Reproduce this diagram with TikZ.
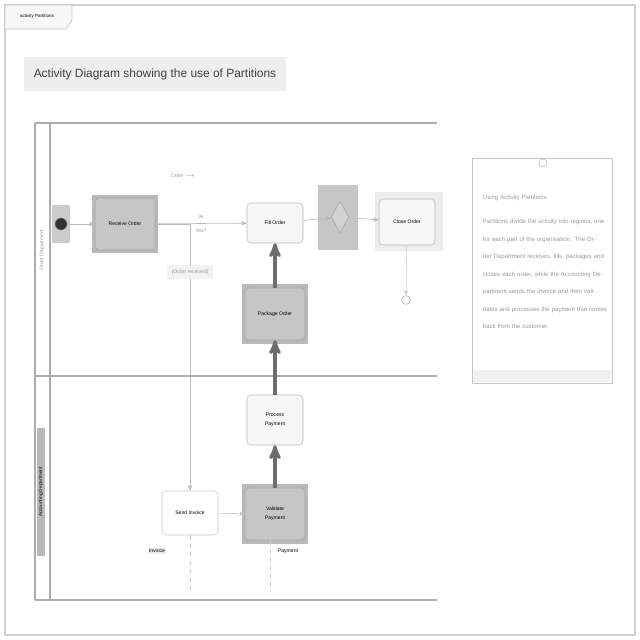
\documentclass[tikz,border=0pt]{standalone}
\usepackage{fontspec}
\setmainfont{Liberation Sans}
\usetikzlibrary{arrows,shapes.geometric,positioning}

\begin{document}
\begin{tikzpicture}[x=0.025cm,y=-0.025cm,>=stealth',font=\fontsize{3.6}{4.4}\selectfont]
    \tikzstyle{act}=[draw=gray!55, fill=gray!7, rounded corners=3pt, minimum width=1.4cm, minimum height=1cm, align=center, inner sep=1pt]
    \tikzstyle{dark act}=[act, fill=gray!45, draw=gray!70, minimum width=1.5cm, minimum height=1.3cm]
    \tikzstyle{hilite}=[fill=gray!55]
    \tikzstyle{flow}=[->, draw=gray!55, thin]
    \tikzstyle{thick flow}=[->, draw=gray!85!black, line width=2.2pt]
    \tikzstyle{lane}=[draw=gray!65, line width=1.5pt]
    \tikzstyle{faint}=[text=gray!80]

    \useasboundingbox (0,0) rectangle (640,640);

    % frame and tab
    \draw[gray!35, line width=1pt] (5,5) rectangle (635,635);
    \draw[gray!45, fill=gray!6] (5,5) -- (72,5) -- (72,20) -- (66,29) -- (5,29) -- cycle;
    \node[font=\fontsize{3.2}{4}\selectfont] (tab) at (37,16) {activity Partitions};

    % title
    \fill[gray!13] (24,57) rectangle (286,91);
    \node[font=\fontsize{8.5}{10}\selectfont, text=gray!50!black] (title) at (155,74) {Activity Diagram showing the use of Partitions};

    % swimlanes
    \draw[lane] (35,123) -- (437,123);
    \draw[lane] (35,376) -- (437,376);
    \draw[lane] (35,600) -- (437,600);
    \draw[lane] (35,123) -- (35,600);
    \draw[lane] (50,123) -- (50,600);
    \node[rotate=90, faint] (topLane) at (42,250) {Order Department};
    \node[rotate=90, fill=gray!55, minimum width=3.2cm, inner sep=1pt, font=\fontsize{3.4}{4}\selectfont] (botLane) at (41,492) {Accounting Department};

    % highlights
    \fill[gray!40] (52,205) rectangle (70,243);
    \fill[hilite] (92,195) rectangle (158,253);
    \fill[gray!45] (318,185) rectangle (358,250);
    \fill[gray!15] (375,192) rectangle (443,251);
    \fill[hilite] (242,284) rectangle (308,344);
    \fill[hilite] (242,484) rectangle (308,544);

    % nodes
    \node[circle, fill=black!80, draw=gray, minimum size=0.3cm, inner sep=0pt] (start) at (61,224) {};
    \node[dark act] (rcv) at (125,224) {Receive Order};
    \node[act] (fill) at (275,223) {Fill Order};
    \node[diamond, draw=gray!70, fill=gray!35, minimum width=0.45cm, minimum height=0.8cm, inner sep=0pt] (dec) at (340,217) {};
    \node[act, minimum height=1.15cm] (close) at (407,222) {Close Order};
    \node[circle, draw=gray!60, fill=white, minimum size=0.22cm, inner sep=0pt] (stop) at (406,300) {};
    \node[dark act] (pkg) at (275,314) {Package Order};
    \node[act, minimum height=1.25cm] (proc) at (275,420) {Process\\[2pt]Payment};
    \node[dark act] (val) at (275,514) {Validate\\[2pt]Payment};
    \node[act, draw=gray!45, fill=white, minimum height=1.1cm] (inv) at (190,513) {Send Invoice};

    % note
    \draw[gray!45, fill=white] (472,158) rectangle (612,383);
    \fill[gray!12] (473,370) rectangle (611,382);
    \node[circle, draw=gray!55, fill=white, minimum size=0.2cm, inner sep=0pt] (pin) at (543,163) {};
    \node[faint, text width=3.1cm, align=left, anchor=north west, font=\fontsize{4.3}{12.4}\selectfont] (note) at (478,190)
        {Using Activity Partitions\\[5pt]
        Partitions divide the activity into regions, one for each part of the organisation. The Order Department receives, fills, packages and closes each order, while the Accounting Department sends the invoice and then validates and processes the payment that comes back from the customer.};

    % connectors
    \draw[flow] (start) -- (rcv);
    \draw[flow] (rcv) -- node[above, faint] {ok} node[below, faint] {Yes?} (fill);
    \draw[flow] (rcv.east) -| node[pos=0.59, fill=gray!10, faint] {[Order received]} (inv.north);
    \draw[flow] (fill) -- (dec);
    \draw[flow] (dec) -- (close);
    \draw[flow, gray!40] (close) -- (stop);
    \draw[flow, gray!45] (inv) -- (val);
    \draw[thick flow] (val) -- (proc);
    \draw[thick flow] (proc) -- (pkg);
    \draw[thick flow] (pkg) -- (fill);
    \node[faint] (ordLbl) at (183,176) {Order $\rightarrow$};

    % object flows below
    \node[fill=gray!15, inner sep=1pt] (invObj) at (157,551) {Invoice};
    \node[inner sep=1pt] (payObj) at (288,551) {Payment};
    \coordinate (invEnd) at (183,592);
    \coordinate (payEnd) at (270,592);
    \draw[gray!40, dashed] (inv.south) -- (inv.south |- invEnd);
    \draw[gray!40, dashed] (val.south) ++(-5,0) coordinate (valOut) -- (valOut |- payEnd);
\end{tikzpicture}
\end{document}
